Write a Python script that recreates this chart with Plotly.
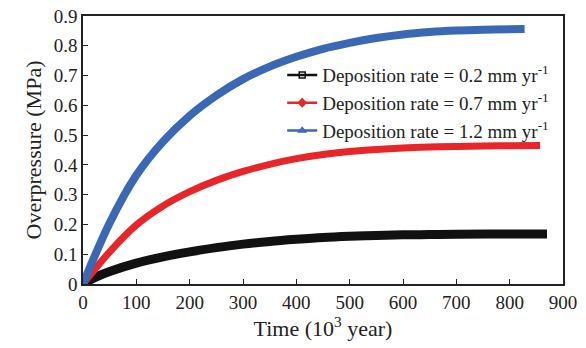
import plotly.graph_objects as go

time_blue = [0, 50, 100, 150, 200, 250, 300, 350, 400, 450, 500, 550, 600, 650, 700, 750, 828]
op_blue = [0, 0.205, 0.365, 0.478, 0.565, 0.633, 0.688, 0.73, 0.763, 0.79, 0.81, 0.826, 0.838, 0.846, 0.851, 0.854, 0.856]

time_red = [0, 50, 100, 150, 200, 250, 300, 350, 400, 450, 500, 550, 600, 650, 700, 780, 857]
op_red = [0, 0.108, 0.198, 0.262, 0.31, 0.348, 0.378, 0.402, 0.421, 0.435, 0.445, 0.452, 0.457, 0.46, 0.462, 0.464, 0.465]

time_black = [0, 25, 50, 100, 150, 200, 250, 300, 350, 400, 450, 500, 550, 600, 650, 700, 780, 870]
op_black = [0, 0.024, 0.042, 0.07, 0.091, 0.108, 0.122, 0.134, 0.143, 0.15, 0.156, 0.16, 0.163, 0.165, 0.166, 0.167, 0.168, 0.168]

labels = ["Deposition rate = 0.2 mm yr<sup>-1</sup>",
          "Deposition rate = 0.7 mm yr<sup>-1</sup>",
          "Deposition rate = 1.2 mm yr<sup>-1</sup>"]
colors = ["#111111", "#e8262a", "#3a68b4"]
symbols = ["square-open", "diamond", "triangle-up-open"]

FONT = "Liberation Serif, Times New Roman, serif"

fig = go.Figure()
series = [(time_black, op_black, 9), (time_red, op_red, 7), (time_blue, op_blue, 8)]
for (t, v, w), c in zip(series, colors):
    fig.add_trace(go.Scatter(x=t, y=v, mode="lines",
                             line=dict(color=c, width=w, shape="spline", smoothing=1.0),
                             showlegend=False))
for lab, c, s in zip(labels, colors, symbols):
    fig.add_trace(go.Scatter(x=[None], y=[None], mode="lines+markers", name=lab,
                             line=dict(color=c, width=2.5),
                             marker=dict(symbol=s, size=6, color=c, line=dict(color=c, width=1.5))))

axis_common = dict(showline=True, linecolor="#222", linewidth=1.5, mirror=True,
                   ticks="inside", ticklen=5, tickwidth=1.2, tickcolor="#222",
                   showgrid=False, zeroline=False, automargin=False,
                   tickfont=dict(family=FONT, size=19, color="#222"))

fig.update_xaxes(range=[0, 900], tickvals=[0, 100, 200, 300, 400, 500, 600, 700, 800, 900],
                 title=dict(text="Time (10<sup>3</sup> year)", font=dict(family=FONT, size=22, color="#222"),
                            standoff=6),
                 **axis_common)
fig.update_yaxes(range=[0, 0.9], tickvals=[0, 0.1, 0.2, 0.3, 0.4, 0.5, 0.6, 0.7, 0.8, 0.9],
                 ticktext=["0", "0.1", "0.2", "0.3", "0.4", "0.5", "0.6", "0.7", "0.8", "0.9"],
                 title=dict(text="Overpressure (MPa)", font=dict(family=FONT, size=22, color="#222"),
                            standoff=6),
                 **axis_common)

fig.update_layout(
    width=586, height=348,
    margin=dict(l=83, r=23, t=16, b=64),
    paper_bgcolor="white", plot_bgcolor="white",
    font=dict(family=FONT, color="#222"),
    legend=dict(x=0.415, y=0.85, xanchor="left", yanchor="top", bgcolor="rgba(0,0,0,0)",
                font=dict(family=FONT, size=19, color="#222"), tracegroupgap=0, itemwidth=30),
)

fig.write_html("out.html", config={"displayModeBar": False},
               post_script="document.body.style.margin='0';")
